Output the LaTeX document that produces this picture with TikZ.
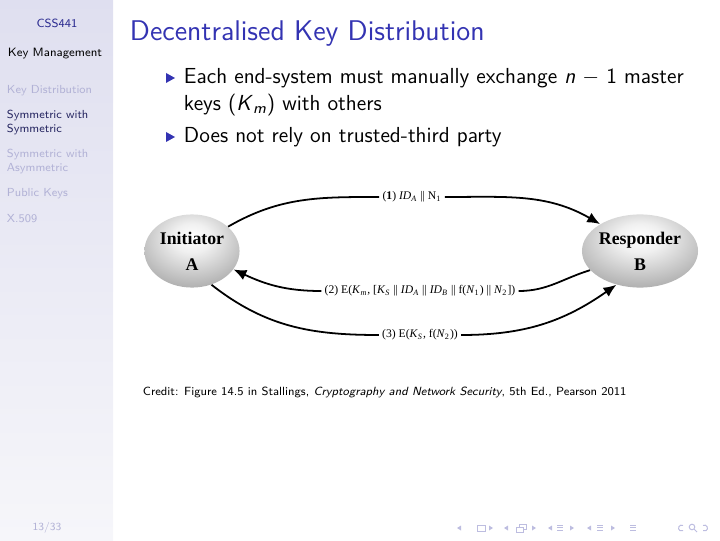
\documentclass[tikz,border=0pt]{standalone}
\usepackage{fontspec}
\usepackage{tikz}
\usetikzlibrary{arrows.meta,shapes.geometric}
\newfontfamily\figfont{Liberation Serif}
\definecolor{structure}{rgb}{0.2,0.2,0.7}
\definecolor{sidetop}{rgb}{0.875,0.875,0.94}
\definecolor{sidebot}{rgb}{0.965,0.965,0.98}
\definecolor{sidefaded}{rgb}{0.70,0.70,0.84}
\definecolor{sidecur}{rgb}{0.15,0.15,0.38}
\definecolor{navcol}{rgb}{0.74,0.74,0.88}
\pgfdeclareradialshading{partyball}{\pgfpoint{0bp}{10bp}}{color(0bp)=(white); color(10bp)=(white!94!black); color(38bp)=(black!38); color(52bp)=(black!55); color(100bp)=(black!55)}

\begin{document}
\begin{tikzpicture}[x=0.017778cm,y=0.017778cm,
  party/.style={ellipse,shading=partyball,minimum width=1.69cm,minimum height=1.3cm,
    inner sep=0pt,align=center,font=\figfont\fontsize{9}{13}\selectfont\bfseries},
  msg/.style={line width=0.9pt,-{Latex[length=6.5pt,width=5.5pt]}},
  lbl/.style={inner sep=1.5pt,font=\figfont\fontsize{5.9}{7}\selectfont},
  sideitem/.style={anchor=west,align=left,font=\sffamily\fontsize{5.9}{6.7}\selectfont},
  slidetext/.style={anchor=west,font=\sffamily\fontsize{11}{13.6}\selectfont}]

\useasboundingbox (0,0) rectangle (720,-540);
\shade[top color=sidetop,bottom color=sidebot] (0,0) rectangle (113,-540);

% sidebar
\node[font=\sffamily\fontsize{6}{7}\selectfont,text=structure!80!black] (course) at (57,-23) {CSS441};
\node[font=\sffamily\fontsize{6.1}{7}\selectfont] (section) at (55,-54) {Key Management};
\node[sideitem,text=sidefaded] (sub1) at (0,-91) {Key Distribution};
\node[sideitem,text=sidecur] (sub2) at (0,-122.5) {Symmetric with\\Symmetric};
\node[sideitem,text=sidefaded] (sub3) at (0,-161.5) {Symmetric with\\Asymmetric};
\node[sideitem,text=sidefaded] (sub4) at (0,-194) {Public Keys};
\node[sideitem,text=sidefaded] (sub5) at (0,-219) {X.509};
\node[font=\sffamily\fontsize{5.5}{6}\selectfont,text=sidefaded] (pageno) at (47,-528) {13/33};

% title and items
\node[anchor=west,text=structure,font=\sffamily\fontsize{14.4}{17}\selectfont] (title) at (123,-34) {Decentralised Key Distribution};
\fill[structure] (166,-73) -- (175,-78) -- (166,-83) -- cycle;
\fill[structure] (166,-132) -- (175,-137) -- (166,-142) -- cycle;
\node[slidetext] (item1a) at (177,-78) {Each end-system must manually exchange \textit{n} $-$ 1 master};
\node[slidetext] (item1b) at (177,-105) {keys (\textit{K}\textsubscript{\textit{m}}) with others};
\node[slidetext] (item2) at (177,-137) {Does not rely on trusted-third party};

% figure
\node[party] (init) at (192,-251) {Initiator\\A};
\node[party] (resp) at (640,-251) {Responder\\B};

\node[lbl] (lab1) at (412,-197) {(\textbf{1}) \textit{ID}\textsubscript{\textit{A}} || N\textsubscript{1}};
\node[lbl] (lab2) at (420,-291) {(2) E(\textit{K}\textsubscript{\textit{m}}, [\textit{K}\textsubscript{\textit{S}} || \textit{ID}\textsubscript{\textit{A}} || \textit{ID}\textsubscript{\textit{B}} || f(\textit{N}\textsubscript{1}) || \textit{N}\textsubscript{2}])};
\node[lbl] (lab3) at (420,-335) {(3) E(\textit{K}\textsubscript{\textit{S}}, f(\textit{N}\textsubscript{2}))};

\draw[msg] (init.34) to[out=30,in=180] (lab1) to[out=0,in=150] (resp.146);
\draw[msg] (resp.201) to[out=197,in=0] (lab2) to[out=180,in=-25] (init.-24);
\draw[msg] (init.-60) to[out=-38,in=180] (lab3) to[out=0,in=215] (resp.235);

\node[anchor=west,font=\sffamily\fontsize{6}{7}\selectfont] (credit) at (136,-392) {Credit: Figure 14.5 in Stallings, \textit{Cryptography and Network Security}, 5th Ed., Pearson 2011};

% navigation symbols
\foreach \l/\r in {459/491, 506/534, 550/572, 589/613} {
  \fill[navcol] (\l-2,-528) -- (\l+2,-525.5) -- (\l+2,-530.5) -- cycle;
  \fill[navcol] (\r+2,-528) -- (\r-2,-525.5) -- (\r-2,-530.5) -- cycle;
}
\draw[navcol,line width=0.5pt] (477,-525) rectangle (485,-531);
\draw[navcol,line width=0.5pt] (519,-524) rectangle (526,-529);
\draw[navcol,line width=0.5pt,fill=white] (516,-527) rectangle (523,-532);
\foreach \x in {560,600,633}
  \foreach \dy in {0,2.5,5}
    \fill[navcol] (\x-3,-524.5-\dy) rectangle (\x+3,-525.8-\dy);
\draw[navcol,line width=0.5pt] (683,-525.5) arc (60:300:3);
\draw[navcol,line width=0.5pt] (692,-527) circle (2.8) (694,-529) -- (697,-532);
\draw[navcol,line width=0.5pt] (703,-525.5) arc (120:-120:3);
\end{tikzpicture}
\end{document}
